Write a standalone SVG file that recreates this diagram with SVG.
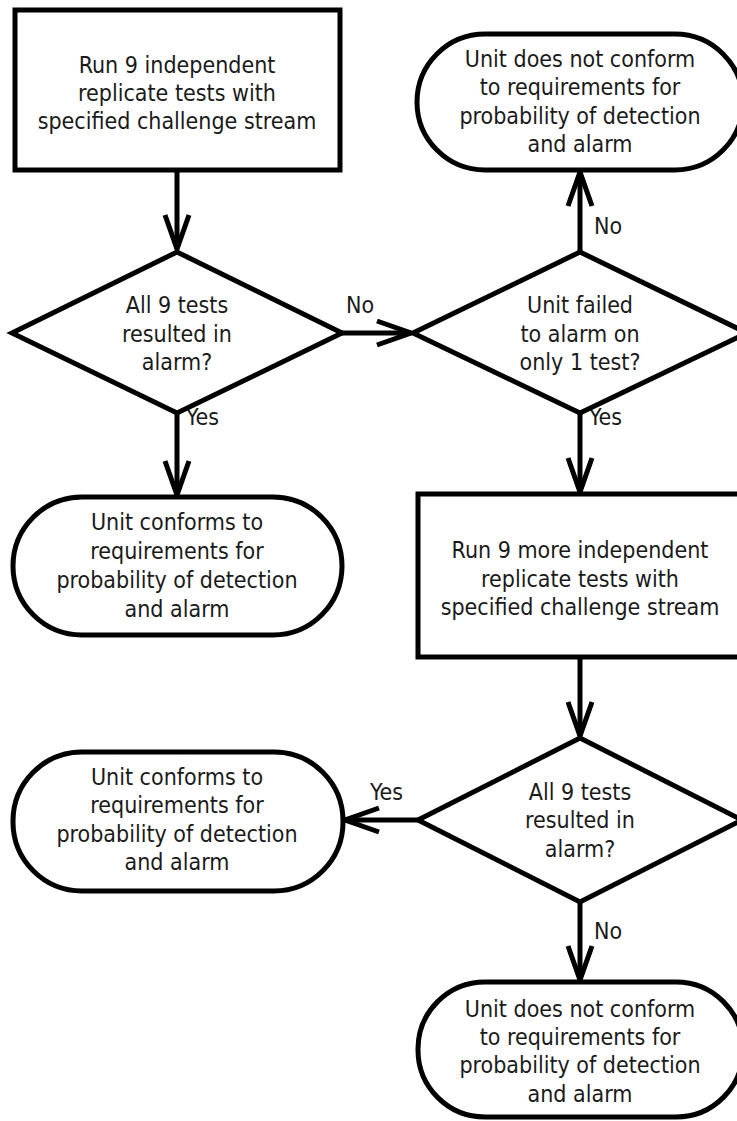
<svg xmlns="http://www.w3.org/2000/svg" width="737" height="1121" viewBox="0 0 737 1121">
<defs>
<style>
.n{fill:#fff;stroke:#000;stroke-width:5}
.t{font-family:"DejaVu Sans Condensed","DejaVu Sans",Verdana,sans-serif;font-size:23px;fill:#1a1a1a;text-anchor:middle}
.l{font-family:"DejaVu Sans Condensed","DejaVu Sans",Verdana,sans-serif;font-size:23px;fill:#1a1a1a}
.c{fill:none;stroke:#000;stroke-width:5}
</style>
<marker id="ah" markerUnits="userSpaceOnUse" viewBox="-40 -16 44 32" refX="0" refY="0" markerWidth="44" markerHeight="32" orient="auto">
<path d="M-34,-12 L0,0 L-34,12" fill="none" stroke="#000" stroke-width="5"/>
</marker>
</defs>
<rect width="737" height="1121" fill="#fff"/>
<g id="connectors">
<line class="c" x1="177" y1="171" x2="177" y2="249" marker-end="url(#ah)"/>
<line class="c" x1="340" y1="333" x2="411" y2="333" marker-end="url(#ah)"/>
<line class="c" x1="580" y1="252" x2="580" y2="172" marker-end="url(#ah)"/>
<line class="c" x1="177" y1="413" x2="177" y2="495" marker-end="url(#ah)"/>
<line class="c" x1="580" y1="413" x2="580" y2="492" marker-end="url(#ah)"/>
<line class="c" x1="580" y1="657" x2="580" y2="736" marker-end="url(#ah)"/>
<line class="c" x1="418" y1="820" x2="345" y2="820" marker-end="url(#ah)"/>
<line class="c" x1="580" y1="902" x2="580" y2="980" marker-end="url(#ah)"/>
<text class="l" x="346" y="313">No</text>
<text class="l" x="594" y="234">No</text>
<text class="l" x="186" y="425">Yes</text>
<text class="l" x="589" y="425">Yes</text>
<text class="l" x="370" y="800">Yes</text>
<text class="l" x="594" y="939">No</text>
</g>
<g id="start">
<rect class="n" x="15" y="10" width="325" height="160"/>
<text class="t" x="177" y="73">Run 9 independent</text>
<text class="t" x="177" y="101">replicate tests with</text>
<text class="t" x="177" y="129">specified challenge stream</text>
</g>
<g id="decision1">
<polygon class="n" points="177,252 342,333 177,413 12,333"/>
<text class="t" x="177" y="313">All 9 tests</text>
<text class="t" x="177" y="342">resulted in</text>
<text class="t" x="177" y="370">alarm?</text>
</g>
<g id="decision2">
<polygon class="n" points="580,252 747,333 580,413 413,333"/>
<text class="t" x="580" y="313">Unit failed</text>
<text class="t" x="580" y="342">to alarm on</text>
<text class="t" x="580" y="370">only 1 test?</text>
</g>
<g id="fail1">
<rect class="n" x="417" y="34" width="326" height="136" rx="68"/>
<text class="t" x="580" y="67">Unit does not conform</text>
<text class="t" x="580" y="95">to requirements for</text>
<text class="t" x="580" y="124">probability of detection</text>
<text class="t" x="580" y="152">and alarm</text>
</g>
<g id="pass1">
<rect class="n" x="13" y="497" width="329" height="138" rx="69"/>
<text class="t" x="177" y="530">Unit conforms to</text>
<text class="t" x="177" y="559">requirements for</text>
<text class="t" x="177" y="588">probability of detection</text>
<text class="t" x="177" y="617">and alarm</text>
</g>
<g id="retest">
<rect class="n" x="418" y="494" width="325" height="163"/>
<text class="t" x="580" y="558">Run 9 more independent</text>
<text class="t" x="580" y="587">replicate tests with</text>
<text class="t" x="580" y="615">specified challenge stream</text>
</g>
<g id="decision3">
<polygon class="n" points="580,738 742,820 580,902 418,820"/>
<text class="t" x="580" y="800">All 9 tests</text>
<text class="t" x="580" y="828">resulted in</text>
<text class="t" x="580" y="857">alarm?</text>
</g>
<g id="pass2">
<rect class="n" x="13" y="752" width="330" height="139" rx="69"/>
<text class="t" x="177" y="785">Unit conforms to</text>
<text class="t" x="177" y="813">requirements for</text>
<text class="t" x="177" y="842">probability of detection</text>
<text class="t" x="177" y="870">and alarm</text>
</g>
<g id="fail2">
<rect class="n" x="418" y="982" width="325" height="135" rx="67"/>
<text class="t" x="580" y="1017">Unit does not conform</text>
<text class="t" x="580" y="1045">to requirements for</text>
<text class="t" x="580" y="1073">probability of detection</text>
<text class="t" x="580" y="1102">and alarm</text>
</g>
</svg>
